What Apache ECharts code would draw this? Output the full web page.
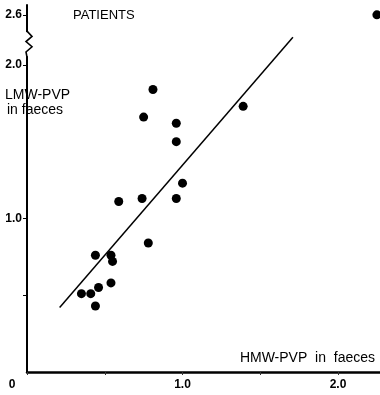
<!DOCTYPE html>
<html>
<head>
<meta charset="utf-8">
<script src="https://cdn.jsdelivr.net/npm/echarts@6/dist/echarts.min.js"></script>
<style>
html,body{margin:0;padding:0;background:#fff;}
#chart{width:380px;height:395px;}
</style>
</head>
<body>
<div id="chart"></div>
<script>
// HMW-PVP in faeces (x) vs LMW-PVP in faeces (y), patients
const hmw = [2.25, 0.81, 0.75, 1.39, 0.96, 0.96, 1.00, 0.74, 0.59, 0.96, 0.78, 0.44, 0.54, 0.55, 0.54, 0.46, 0.35, 0.41, 0.44];
const lmw = [2.60, 1.84, 1.66, 1.73, 1.62, 1.50, 1.23, 1.13, 1.11, 1.13, 0.84, 0.76, 0.76, 0.72, 0.58, 0.55, 0.51, 0.51, 0.43];
const lineX = [0.21, 1.71];
const lineY = [0.42, 2.33];
const xTicks = [0, 0.5, 1.0, 1.5, 2.0];
const xLabelValues = [0, 1.0, 2.0];
const xLabelTexts = ['0', '1.0', '2.0'];
const yTicks = [0.5, 1.0, 2.0, 2.6];
const yLabelTexts = ['', '1.0', '2.0', '2.6'];

// broken y-axis: values above 2.0 are compressed
const BREAK = 2.0, BREAK_TOP = 2.6, BREAK_SHOWN = 0.326;
function toAxis(v) { return v <= BREAK ? v : BREAK + (v - BREAK) * BREAK_SHOWN / (BREAK_TOP - BREAK); }

const points = hmw.map((x, i) => [x, toAxis(lmw[i])]);
const linePts = lineX.map((x, i) => [x, toAxis(lineY[i])]);
const yTickPos = yTicks.map(toAxis);

const chart = echarts.init(document.getElementById('chart'));
const font = 'Liberation Sans, Arial, sans-serif';
chart.setOption({
  animation: false,
  backgroundColor: '#fff',
  grid: { left: 27, right: 0, top: 5, bottom: 23, outerBoundsMode: 'none', containLabel: false },
  xAxis: {
    type: 'value', min: 0, max: 2.27,
    axisLine: { show: true, onZero: false, lineStyle: { color: '#000', width: 2.5 } },
    axisTick: { show: true, customValues: xTicks, length: 3, inside: false, lineStyle: { color: '#333', width: 1 } },
    axisLabel: {
      customValues: xLabelValues, margin: 7,
      color: '#000', fontFamily: font, fontSize: 12, fontWeight: 'bold',
      formatter: function (v) {
        const i = xLabelValues.findIndex(t => Math.abs(t - v) < 1e-6);
        if (i < 0) return '';
        return i === 0 ? '{z|' + xLabelTexts[i] + '}' : xLabelTexts[i];
      },
      rich: { z: { padding: [0, 30, 0, 0], color: '#000', fontFamily: font, fontSize: 12, fontWeight: 'bold' } }
    },
    splitLine: { show: false }
  },
  yAxis: {
    type: 'value', min: 0, max: 2.39,
    axisLine: { show: true, onZero: false, lineStyle: { color: '#000', width: 2 } },
    axisTick: { show: true, customValues: yTickPos, length: 4, inside: false, lineStyle: { color: '#000', width: 1 } },
    axisLabel: {
      customValues: yTickPos, margin: 5,
      color: '#000', fontFamily: font, fontSize: 12, fontWeight: 'bold',
      formatter: function (v) {
        const i = yTickPos.findIndex(t => Math.abs(t - v) < 1e-6);
        return i < 0 ? '' : yLabelTexts[i];
      }
    },
    splitLine: { show: false }
  },
  series: [
    {
      type: 'line', data: linePts, symbol: 'none', silent: true,
      lineStyle: { color: '#000', width: 1.5 }, z: 2
    },
    {
      type: 'scatter', data: points, symbol: 'circle', symbolSize: 9,
      itemStyle: { color: '#000', opacity: 1 }, clip: false, z: 3
    }
  ]
});

// zig-zag break mark on the y axis
const ax = chart.convertToPixel({ gridIndex: 0 }, [0, 0])[0];
const yLo = chart.convertToPixel({ yAxisIndex: 0 }, 2.05);
const yHi = chart.convertToPixel({ yAxisIndex: 0 }, 2.22);
const h = yLo - yHi;
const zz = [
  [ax, yHi], [ax + 5, yHi + h * 0.2], [ax - 1, yHi + h * 0.4],
  [ax + 5, yHi + h * 0.6], [ax - 1, yHi + h * 0.8], [ax, yLo]
];
chart.setOption({
  graphic: [
    { id: 'brkMask', type: 'rect', shape: { x: ax - 2, y: yHi + 1, width: 4, height: h - 2 }, style: { fill: '#fff' }, z: 50 },
    { id: 'brkZig', type: 'polyline', shape: { points: zz }, style: { stroke: '#000', lineWidth: 1.6, fill: null }, z: 51 },
    { id: 't1', type: 'text', left: 73, top: 9, style: { text: 'PATIENTS', fill: '#000', font: '13px ' + font } },
    { id: 't2', type: 'text', left: 5, top: 88, style: { text: 'LMW-PVP', fill: '#000', font: '14px ' + font } },
    { id: 't3', type: 'text', left: 7, top: 103, style: { text: 'in faeces', fill: '#000', font: '14px ' + font } },
    { id: 't4', type: 'text', right: 5, top: 351, style: { text: 'HMW-PVP  in  faeces', fill: '#000', font: '14px ' + font } }
  ]
});
</script>
</body>
</html>
